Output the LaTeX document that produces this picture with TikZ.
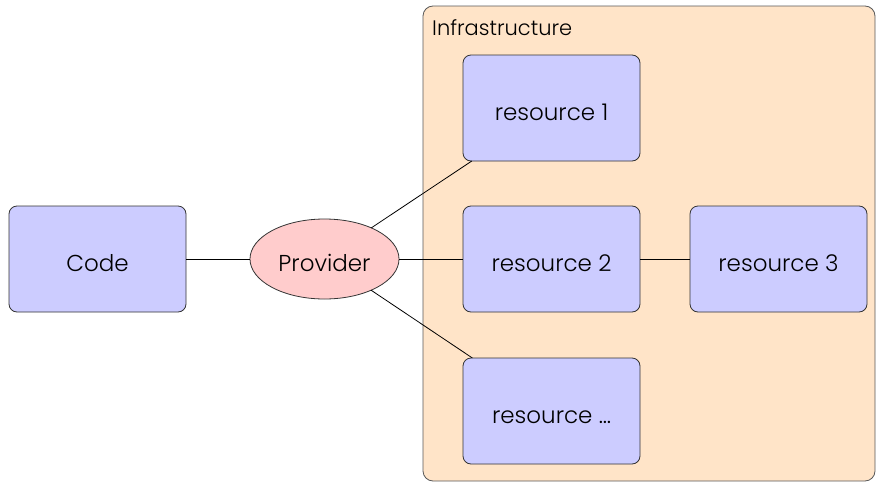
\documentclass[tikz,border=0pt]{standalone}
\usepackage{fontspec}
\setmainfont{Poppins Light}
\usetikzlibrary{shapes,positioning}
\definecolor{boxblue}{RGB}{204,204,255}
\definecolor{provpink}{RGB}{255,204,204}
\definecolor{infrabg}{RGB}{255,228,200}

\begin{document}
\begin{tikzpicture}[x = 1pt, y = 1pt, node distance = 64pt]
  \useasboundingbox (0,0) rectangle (876,-482);
  \tikzset{BoxStyle/.style      = {shape          = rectangle,
                                   rounded corners = 8pt,
                                   draw           = black!80,
                                   fill           = boxblue,
                                   line width     = 0.8pt,
                                   outer sep      = 0pt,
                                   text height    = 24pt,
                                   text depth     = 0pt,
                                   minimum width  = 177pt,
                                   minimum height = 106pt,
                                   font           = \fontsize{23}{27}\selectfont}}
  \tikzset{ProviderStyle/.style = {shape          = ellipse,
                                   draw           = black!80,
                                   fill           = provpink,
                                   line width     = 0.8pt,
                                   inner sep      = 0pt,
                                   outer sep      = 0pt,
                                   text height    = 24pt,
                                   text depth     = 0pt,
                                   minimum width  = 149pt,
                                   minimum height = 80pt,
                                   font           = \fontsize{23}{27}\selectfont}}
  \tikzset{InfraStyle/.style    = {rounded corners = 10pt,
                                   draw           = black!65,
                                   fill           = infrabg,
                                   line width     = 0.8pt}}
  \tikzset{EdgeStyle/.style     = {draw           = black,
                                   line width     = 0.8pt}}
     \draw[InfraStyle] (423,-6) rectangle (875,-481);
     \node[anchor = north west, inner sep = 0pt,
           font = \fontsize{21}{25}\selectfont] (infra) at (432,-19) {Infrastructure};
     \node[BoxStyle] (code) at (97.5,-259) {Code};
     \node[ProviderStyle, right = of code] (prov) {Provider};
     \node[BoxStyle, right = of prov] (res2) {resource 2};
     \node[BoxStyle, above = 45pt of res2] (res1) {resource 1};
     \node[BoxStyle, below = 46pt of res2] (resx) {resource \dots};
     \node[BoxStyle, right = 50pt of res2] (res3) {resource 3};
     \draw[EdgeStyle] (code) -- (prov);
     \draw[EdgeStyle] (prov) -- (res1);
     \draw[EdgeStyle] (prov) -- (res2);
     \draw[EdgeStyle] (prov) -- (resx);
     \draw[EdgeStyle] (res2) -- (res3);
  \end{tikzpicture}
\end{document}
